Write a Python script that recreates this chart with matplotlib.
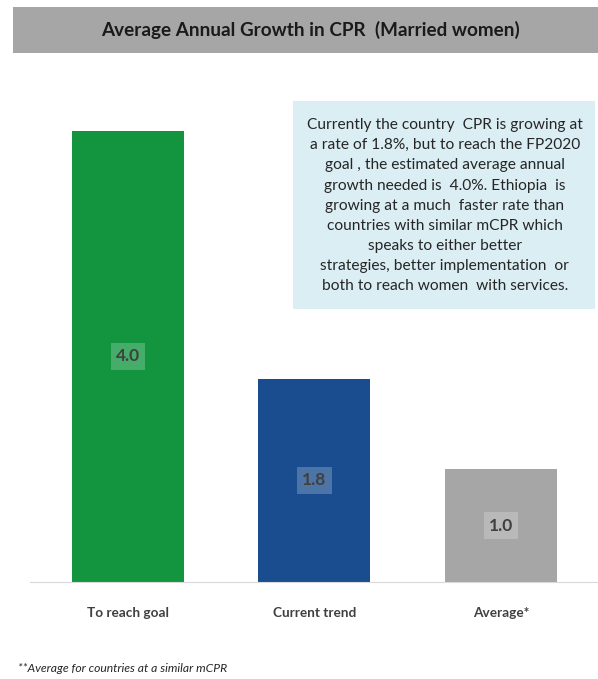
import matplotlib.pyplot as plt
from matplotlib.patches import Rectangle

plt.rcParams['font.family'] = ['Lato', 'DejaVu Sans']

categories = ["To reach goal", "Current trend", "Average*"]
values = [4.0, 1.8, 1.0]
colors = ["#13953f", "#1a4d8f", "#a6a6a6"]

title = "Average Annual Growth in CPR  (Married women)"
note = ("Currently the country  CPR is growing at\n"
        "a rate of 1.8%, but to reach the FP2020\n"
        "goal , the estimated average annual\n"
        "growth needed is  4.0%. Ethiopia  is\n"
        "growing at a much  faster rate than\n"
        "countries with similar mCPR which\n"
        "speaks to either better\n"
        "strategies, better implementation  or\n"
        "both to reach women  with services.")
footnote = "**Average for countries at a similar mCPR"

fig = plt.figure(figsize=(5.98, 6.79), dpi=100)
fig.patch.set_facecolor("white")

# title bar
fig.patches.append(Rectangle((0.022, 0.922), 0.978, 0.068, transform=fig.transFigure,
                             facecolor="#a6a6a6", edgecolor="none", zorder=0))
fig.text(0.52, 0.956, title, ha="center", va="center", fontsize=13.6,
         fontweight="bold", color="#1a1a1a")

ax = fig.add_axes([0.050, 0.143, 0.950, 0.830])
x = list(range(len(categories)))
bars = ax.bar(x, values, width=0.6, color=colors, zorder=2)
ax.set_xlim(-0.525, 2.52)
ax.set_ylim(0, 5)

for b, v in zip(bars, values):
    ax.text(b.get_x() + b.get_width() / 2, v / 2, f"{v:.1f}", ha="center", va="center",
            fontsize=12.5, fontweight="bold", color="#404040", zorder=3,
            bbox=dict(boxstyle="square,pad=0.3", facecolor="white", alpha=0.22,
                      edgecolor="none"))

for s in ["top", "right", "left"]:
    ax.spines[s].set_visible(False)
ax.spines["bottom"].set_color("#d9d9d9")
ax.set_yticks([])
ax.set_xticks(x)
ax.set_xticklabels(categories, fontsize=9.8, fontweight="bold", color="#404040")
ax.tick_params(axis="x", length=0, pad=18)

# annotation box
fig.patches.append(Rectangle((0.490, 0.545), 0.505, 0.306, transform=fig.transFigure,
                             facecolor="#dbeef4", edgecolor="none", zorder=1))
fig.text(0.744, 0.697, note, ha="center", va="center", fontsize=11.2,
         color="#262626", linespacing=1.56, zorder=2)

fig.text(0.030, 0.016, footnote, ha="left", va="center", fontsize=8.7,
         style="italic", color="#262626")

fig.savefig("out.png", dpi=100)
